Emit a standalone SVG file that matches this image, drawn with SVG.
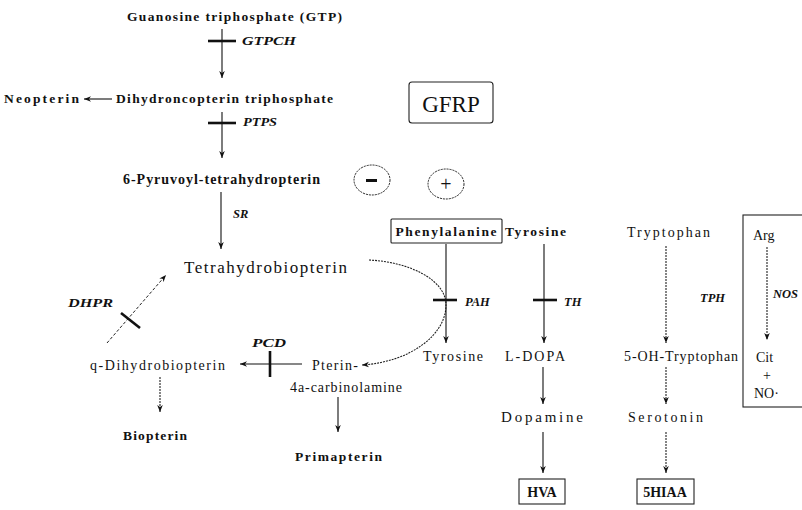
<svg xmlns="http://www.w3.org/2000/svg" width="802" height="510" viewBox="0 0 802 510">
<defs>
<marker id="ah" viewBox="0 0 10 10" refX="10" refY="5" markerWidth="7" markerHeight="7" markerUnits="userSpaceOnUse" orient="auto">
<path d="M0,1 L10,5 L0,9 L3,5 z" fill="#111"/>
</marker>
<style>
text{font-family:"Liberation Serif","Times New Roman",serif;fill:#111}
.b{font-weight:bold;font-size:13.5px}
.n{font-size:14px}
.e{font-weight:bold;font-style:italic;font-size:12.5px}
.ln{stroke:#111;stroke-width:1.1;fill:none}
.dt{stroke:#222;stroke-width:1.1;fill:none;stroke-dasharray:2,1}
.ds{stroke:#222;stroke-width:1;fill:none;stroke-dasharray:3,2}
.tk{stroke:#111;stroke-width:2.6}
.bx{fill:#fff;stroke:#222;stroke-width:1.1}
.fr{fill:none;stroke:#222;stroke-width:1.1}
</style>
</defs>
<rect width="802" height="510" fill="#fff"/>

<g id="connectors">
<line class="ln" x1="222" y1="29" x2="222" y2="78" marker-end="url(#ah)"/>
<line class="tk" x1="208" y1="41" x2="236" y2="41"/>
<line class="ln" x1="112" y1="99" x2="84" y2="99" marker-end="url(#ah)"/>
<line class="ln" x1="222" y1="112" x2="222" y2="158" marker-end="url(#ah)"/>
<line class="tk" x1="208" y1="123" x2="236" y2="123"/>
<line class="ln" x1="221" y1="192" x2="221" y2="249" marker-end="url(#ah)"/>
<line class="ds" x1="107" y1="343" x2="166" y2="275" marker-end="url(#ah)"/>
<line class="tk" x1="121" y1="313" x2="140" y2="328"/>
<line class="ln" x1="302" y1="364" x2="240" y2="364" marker-end="url(#ah)"/>
<line class="tk" x1="270" y1="351" x2="270" y2="377"/>
<line class="dt" x1="160" y1="377" x2="160" y2="412" marker-end="url(#ah)"/>
<line class="ln" x1="338" y1="397" x2="338" y2="432" marker-end="url(#ah)"/>
<path class="dt" d="M369 260 C410 262 446 280 446 305 C446 335 410 362 362 365" marker-end="url(#ah)"/>
<line class="ln" x1="446" y1="244" x2="446" y2="343" marker-end="url(#ah)"/>
<line class="tk" x1="433" y1="300" x2="457" y2="300"/>
<line class="ln" x1="544" y1="244" x2="544" y2="343" marker-end="url(#ah)"/>
<line class="tk" x1="533" y1="300" x2="557" y2="300"/>
<line class="dt" x1="666" y1="246" x2="666" y2="343" marker-end="url(#ah)"/>
<line class="ln" x1="543" y1="367" x2="543" y2="404" marker-end="url(#ah)"/>
<line class="ln" x1="543" y1="432" x2="543" y2="473" marker-end="url(#ah)"/>
<line class="dt" x1="666" y1="367" x2="666" y2="404" marker-end="url(#ah)"/>
<line class="dt" x1="666" y1="432" x2="666" y2="473" marker-end="url(#ah)"/>
<line class="dt" x1="767" y1="247" x2="767" y2="340" marker-end="url(#ah)"/>
</g>

<g id="gtp"><text class="b" x="127" y="21" textLength="215" lengthAdjust="spacing">Guanosine triphosphate (GTP)</text></g>
<g id="gtpch"><text class="e" x="242" y="45" textLength="54" lengthAdjust="spacingAndGlyphs">GTPCH</text></g>
<g id="neopterin"><text class="b" x="4" y="103" textLength="75" lengthAdjust="spacing">Neopterin</text></g>
<g id="dhnp"><text class="b" x="116" y="103" textLength="217" lengthAdjust="spacing">Dihydroncopterin triphosphate</text></g>
<g id="ptps"><text class="e" x="243" y="126" textLength="34" lengthAdjust="spacingAndGlyphs">PTPS</text></g>
<g id="gfrp"><rect class="bx" x="409" y="82" width="84" height="41" rx="3"/><text x="451" y="112" font-size="23" text-anchor="middle">GFRP</text></g>
<g id="pyruvoyl"><text class="n" x="123" y="184" font-weight="bold" textLength="197" lengthAdjust="spacing">6-Pyruvoyl-tetrahydropterin</text></g>
<g id="minus"><ellipse cx="372" cy="180" rx="18" ry="15" fill="none" stroke="#222" stroke-width="1" stroke-dasharray="2,1"/><rect x="366" y="179" width="11" height="3" fill="#111"/></g>
<g id="plus"><ellipse cx="446" cy="184" rx="18" ry="15" fill="none" stroke="#222" stroke-width="1" stroke-dasharray="2,1"/><text x="446" y="191" font-size="20" text-anchor="middle">+</text></g>
<g id="sr"><text class="e" x="233" y="218">SR</text></g>
<g id="bh4"><text x="184" y="273" font-size="17" textLength="163" lengthAdjust="spacing">Tetrahydrobiopterin</text></g>
<g id="dhpr"><text class="e" x="68" y="307" textLength="45" lengthAdjust="spacingAndGlyphs">DHPR</text></g>
<g id="pcd"><text class="e" x="252" y="347" textLength="34" lengthAdjust="spacingAndGlyphs">PCD</text></g>
<g id="qbh2"><text class="n" x="90" y="370" textLength="135" lengthAdjust="spacing">q-Dihydrobiopterin</text></g>
<g id="pterin"><text class="n" x="312" y="370" textLength="46" lengthAdjust="spacing">Pterin-</text><text class="n" x="290" y="392" textLength="112" lengthAdjust="spacing">4a-carbinolamine</text></g>
<g id="biopterin"><text class="b" x="123" y="440" textLength="64" lengthAdjust="spacing">Biopterin</text></g>
<g id="primapterin"><text class="b" x="295" y="461" textLength="87" lengthAdjust="spacing">Primapterin</text></g>
<g id="phe"><rect class="bx" x="391" y="219" width="111" height="24" rx="1"/><text class="b" x="446" y="236" text-anchor="middle" textLength="101" lengthAdjust="spacing">Phenylalanine</text></g>
<g id="tyr1"><text class="b" x="505" y="236" textLength="61" lengthAdjust="spacing">Tyrosine</text></g>
<g id="pah"><text class="e" x="465" y="306">PAH</text></g>
<g id="th"><text class="e" x="564" y="306">TH</text></g>
<g id="trp"><text class="n" x="627" y="237" textLength="83" lengthAdjust="spacing">Tryptophan</text></g>
<g id="tph"><text class="e" x="700" y="302">TPH</text></g>
<g id="tyr2"><text class="n" x="423" y="361" textLength="60" lengthAdjust="spacing">Tyrosine</text></g>
<g id="ldopa"><text class="n" x="505" y="361" textLength="60" lengthAdjust="spacing">L-DOPA</text></g>
<g id="ohtrp"><text class="n" x="624" y="361" textLength="114" lengthAdjust="spacing">5-OH-Tryptophan</text></g>
<g id="dopamine"><text x="501" y="422" font-size="15" textLength="82" lengthAdjust="spacing">Dopamine</text></g>
<g id="serotonin"><text class="n" x="628" y="422" textLength="75" lengthAdjust="spacing">Serotonin</text></g>
<g id="hva"><rect class="bx" x="519" y="479" width="46" height="25"/><text class="n" x="542" y="497" text-anchor="middle" font-weight="bold">HVA</text></g>
<g id="hiaa"><rect class="bx" x="637" y="479" width="57" height="25"/><text class="n" x="665" y="497" text-anchor="middle" font-weight="bold">5HIAA</text></g>
<g id="nos"><rect class="fr" x="743" y="215" width="70" height="192"/>
<text class="n" x="753" y="240">Arg</text>
<text class="e" x="773" y="298">NOS</text>
<text class="n" x="756" y="362">Cit</text>
<text class="n" x="767" y="380" text-anchor="middle">+</text>
<text class="n" x="754" y="398">NO·</text></g>
</svg>
